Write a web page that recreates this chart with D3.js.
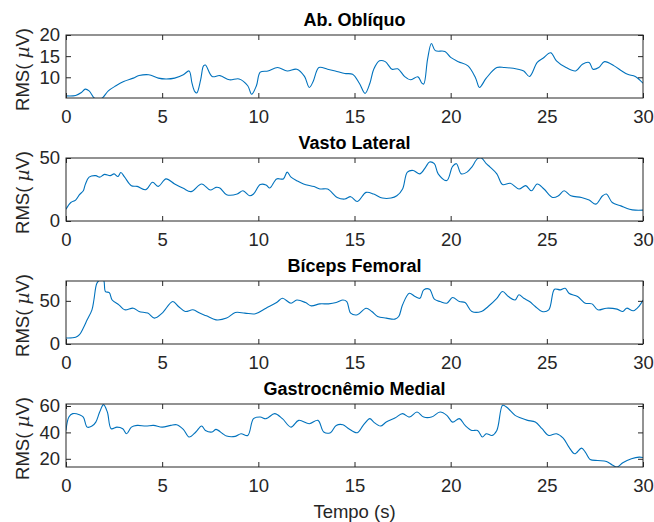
<!DOCTYPE html>
<html><head><meta charset="utf-8">
<script src="https://cdn.jsdelivr.net/npm/d3@7"></script>
<style>
body{margin:0;background:#fff}
svg{display:block}
text{font-family:"Liberation Sans",Arial,Helvetica,sans-serif}
</style>
</head><body>
<svg id="fig" width="654" height="522"></svg>
<script>
// Time axis (s)
const timeTicks = [0, 5, 10, 15, 20, 25, 30];

// RMS envelopes, [time (s), RMS (µV)]
const abObliquo = [
  [0,5.6],[0.5,5.7],[0.8,6.4],[1.0,7.2],[1.2,6.8],[1.5,5.0],[1.85,5.0],[2.2,6.8],[2.6,8.0],[3.0,9.0],
  [3.5,9.8],[3.8,10.4],[4.3,10.6],[4.8,9.8],[5.2,9.6],[5.65,9.8],[6.1,10.6],[6.4,11.5],[6.55,8.6],[6.7,6.6],
  [6.8,6.3],[7.0,9.4],[7.15,12.7],[7.25,12.9],[7.6,10.2],[8.0,10.4],[8.5,9.4],[9.0,9.6],[9.45,8.0],[9.65,6.0],
  [9.9,8.0],[10.1,11.2],[10.5,11.5],[11.0,12.3],[11.5,11.5],[12.0,11.9],[12.4,10.2],[12.65,7.6],[12.85,9.0],[13.15,12.3],
  [13.6,11.9],[14.0,11.5],[14.5,10.9],[14.9,10.7],[15.25,8.6],[15.55,6.2],[15.8,8.6],[16.0,11.9],[16.3,13.9],[16.6,13.7],
  [16.95,11.9],[17.25,12.0],[17.6,10.2],[17.9,9.4],[18.3,10.1],[18.5,8.6],[18.6,8.4],[18.8,14.3],[19.0,18.0],[19.2,16.3],
  [19.7,16.1],[20.0,14.7],[20.4,13.7],[20.9,12.7],[21.3,9.8],[21.5,7.6],[21.85,9.8],[22.4,12.3],[22.8,12.3],[23.5,11.9],
  [23.8,11.5],[24.1,10.2],[24.5,13.5],[24.8,14.5],[25.2,15.8],[25.5,13.9],[26.0,12.3],[26.5,11.5],[26.85,13.1],[27.2,13.5],
  [27.4,11.9],[27.7,12.3],[28.0,13.7],[28.5,12.7],[28.9,11.5],[29.2,10.7],[29.6,10.2],[30.0,8.6]
];

const vastoLateral = [
  [0,9.4],[0.25,14.7],[0.5,16.6],[0.7,20.9],[0.9,24.0],[1.0,28.9],[1.2,34.8],[1.55,36.0],[1.75,34.8],[2.0,37.0],
  [2.3,36.0],[2.5,37.4],[2.7,35.3],[2.85,38.5],[3.05,34.8],[3.4,28.0],[3.7,27.5],[4.15,24.9],[4.5,30.7],[4.8,27.5],
  [5.2,33.4],[5.65,29.4],[6.1,25.9],[6.5,23.3],[7.05,29.4],[7.5,24.6],[7.8,26.7],[8.0,26.2],[8.35,20.9],[8.9,21.4],
  [9.2,24.0],[9.55,20.0],[9.75,21.4],[10.1,28.9],[10.4,28.6],[10.6,26.2],[10.95,33.4],[11.3,33.4],[11.5,38.8],[11.7,34.8],
  [12.0,32.0],[12.35,29.4],[12.9,27.3],[13.2,25.4],[13.6,25.4],[14.1,18.7],[14.5,17.4],[14.8,19.3],[15.15,15.5],[15.6,22.7],
  [16.0,21.4],[16.45,18.2],[16.9,18.2],[17.2,20.0],[17.5,25.4],[17.75,38.8],[18.05,40.1],[18.4,37.4],[18.7,42.8],[18.9,46.8],
  [19.15,45.5],[19.35,37.4],[19.8,32.1],[20.1,43.3],[20.3,45.5],[20.55,37.4],[20.85,38.8],[21.1,42.8],[21.4,49.5],[21.6,50.0],
  [21.85,45.5],[22.05,42.8],[22.4,37.4],[22.7,28.9],[23.1,29.9],[23.55,25.4],[23.9,28.1],[24.2,24.0],[24.5,29.4],[24.85,25.4],
  [25.3,18.7],[25.6,20.0],[25.9,24.0],[26.25,20.0],[26.8,18.7],[27.2,16.6],[27.55,13.4],[27.9,20.0],[28.1,21.4],[28.4,14.7],
  [28.85,12.0],[29.3,9.4],[29.6,8.6],[30.0,8.6]
];

const bicepsFemoral = [
  [0,6.9],[0.5,7.7],[0.7,10.8],[0.9,18.5],[1.1,28.0],[1.35,39.6],[1.45,51.0],[1.6,70.0],[1.75,74.0],[1.95,74.0],
  [2.05,60.8],[2.25,59.6],[2.4,51.0],[2.75,45.4],[3.05,39.6],[3.5,41.5],[3.8,37.7],[4.25,35.8],[4.6,30.0],[5.0,35.8],
  [5.55,49.2],[5.85,43.5],[6.2,37.7],[6.6,39.6],[6.95,35.8],[7.3,32.7],[7.8,28.0],[8.35,30.0],[8.8,36.5],[9.3,35.8],
  [9.85,35.0],[10.4,41.5],[10.95,48.0],[11.25,53.0],[11.7,47.3],[12.0,51.0],[12.45,48.0],[12.75,44.2],[13.2,46.5],[13.65,46.5],
  [14.05,48.0],[14.4,51.0],[14.6,49.2],[14.8,35.8],[15.15,33.8],[15.6,41.5],[15.9,37.7],[16.2,31.9],[16.65,30.0],[17.1,28.8],
  [17.3,31.9],[17.5,45.4],[17.85,58.8],[18.15,55.0],[18.4,53.0],[18.6,62.7],[18.9,63.5],[19.15,51.9],[19.45,49.2],[19.8,47.3],
  [20.1,53.8],[20.45,49.2],[20.75,48.0],[21.1,37.7],[21.6,37.7],[21.95,43.5],[22.4,53.0],[22.7,60.8],[23.0,55.0],[23.35,51.0],
  [23.55,57.0],[23.8,53.0],[24.1,49.2],[24.4,43.5],[24.75,37.7],[25.1,39.6],[25.4,63.5],[25.7,62.7],[25.95,64.6],[26.15,58.8],
  [26.6,55.0],[27.0,47.3],[27.35,46.5],[27.65,39.6],[28.1,41.5],[28.65,40.4],[28.95,37.7],[29.15,41.5],[29.5,38.5],[29.8,44.0],[30.0,51.0]
];

const gastrocnemioMedial = [
  [0,41.5],[0.15,51.6],[0.35,54.2],[0.7,53.4],[0.9,51.6],[1.1,44.0],[1.35,44.8],[1.55,47.8],[1.75,55.4],[1.95,61.0],
  [2.15,55.4],[2.35,42.8],[2.65,44.0],[2.95,42.8],[3.15,39.0],[3.4,44.0],[3.7,45.3],[4.15,44.8],[4.55,45.3],[5.0,44.0],
  [5.45,45.3],[5.75,45.8],[6.1,42.3],[6.4,36.5],[6.75,40.3],[7.05,44.8],[7.25,41.5],[7.6,40.3],[7.8,42.3],[8.15,39.0],
  [8.35,37.2],[8.8,37.0],[9.1,39.0],[9.45,37.7],[9.75,50.4],[10.1,51.6],[10.4,50.4],[10.85,54.2],[11.25,50.4],[11.7,44.0],
  [12.1,49.1],[12.65,46.6],[13.1,49.1],[13.4,40.3],[13.75,39.8],[14.05,45.3],[14.4,45.8],[14.7,42.8],[15.15,39.8],[15.45,45.3],
  [15.8,50.4],[16.0,47.8],[16.35,44.8],[16.65,47.8],[17.1,50.9],[17.5,54.2],[17.85,51.6],[18.25,55.4],[18.6,51.6],[19.0,51.6],
  [19.45,55.4],[19.8,52.9],[20.1,47.8],[20.45,50.4],[20.75,45.3],[21.1,41.5],[21.4,41.5],[21.65,36.5],[21.85,39.0],[22.15,37.7],
  [22.4,41.5],[22.7,60.5],[22.9,59.2],[23.35,52.9],[23.65,50.9],[24.0,49.1],[24.4,47.8],[24.75,42.8],[25.1,37.7],[25.5,39.0],
  [25.85,35.7],[26.15,28.9],[26.45,23.8],[26.8,28.1],[27.0,25.1],[27.25,19.5],[27.65,18.7],[28.1,18.0],[28.4,15.4],[28.65,13.8],
  [28.95,17.0],[29.4,20.0],[29.8,21.3],[30.0,21.0]
];

// Panel definitions: title, series, y-range and y-ticks
const panelTitles = ["Ab. Oblíquo", "Vasto Lateral", "Bíceps Femoral", "Gastrocnêmio Medial"];
const panelSeries = [abObliquo, vastoLateral, bicepsFemoral, gastrocnemioMedial];
const panelYDomains = [[5.1, 20], [0, 50], [0, 73], [13.8, 61.5]];
const panelYTicks = [[10, 15, 20], [0, 50], [0, 50], [20, 40, 60]];

const svg = d3.select("#fig");
const left = 66, right = 643;
const firstTop = 35, pitch = 123, plotH = 63;
const axisColor = "#262626";
const lineColor = "#0072BD";
const tickLen = 5;
const labelSize = "18.5px";

const x = d3.scaleLinear().domain([0, 30]).range([left, right]);

panelTitles.forEach((title, i) => {
  const top = firstTop + i * pitch;
  const bottom = top + plotH;
  const y = d3.scaleLinear().domain(panelYDomains[i]).range([bottom, top]);
  const g = svg.append("g");

  const clipId = "clip" + i;
  svg.append("clipPath").attr("id", clipId)
    .append("rect").attr("x", left).attr("y", top).attr("width", right - left).attr("height", plotH);

  // data line
  const line = d3.line().x(d => x(d[0])).y(d => y(d[1])).curve(d3.curveCatmullRom.alpha(0.5));
  g.append("path").datum(panelSeries[i])
    .attr("clip-path", `url(#${clipId})`)
    .attr("fill", "none").attr("stroke", lineColor).attr("stroke-width", 1.1)
    .attr("d", line);

  // bottom axis with inward ticks
  const xAxis = d3.axisBottom(x).tickValues(timeTicks).tickSizeInner(-tickLen).tickSizeOuter(0).tickPadding(12);
  const gx = g.append("g").attr("transform", `translate(0,${bottom})`).call(xAxis);
  // top mirrored ticks
  const xTop = d3.axisTop(x).tickValues(timeTicks).tickSizeInner(-tickLen).tickSizeOuter(0).tickFormat("");
  const gxt = g.append("g").attr("transform", `translate(0,${top})`).call(xTop);
  // left axis
  const yAxis = d3.axisLeft(y).tickValues(panelYTicks[i]).tickSizeInner(-tickLen).tickSizeOuter(0).tickPadding(6);
  const gy = g.append("g").attr("transform", `translate(${left},0)`).call(yAxis);
  const yRight = d3.axisRight(y).tickValues(panelYTicks[i]).tickSizeInner(-tickLen).tickSizeOuter(0).tickFormat("");
  const gyr = g.append("g").attr("transform", `translate(${right},0)`).call(yRight);

  [gx, gxt, gy, gyr].forEach(a => {
    a.select(".domain").remove();
    a.selectAll(".tick line").attr("stroke", axisColor).attr("stroke-width", 1);
    a.selectAll(".tick text").attr("fill", axisColor).style("font-size", labelSize);
  });

  // axes box
  g.append("rect").attr("x", left).attr("y", top).attr("width", right - left).attr("height", plotH)
    .attr("fill", "none").attr("stroke", axisColor).attr("stroke-width", 1);

  // title
  svg.append("text").attr("x", (left + right) / 2).attr("y", top - 9)
    .attr("text-anchor", "middle").attr("font-weight", "bold").attr("fill", "#000")
    .style("font-size", "18px").text(title);

  // y label
  const yl = svg.append("text")
    .attr("transform", `translate(29,${(top + bottom) / 2 + 3}) rotate(-90)`)
    .attr("text-anchor", "middle").attr("fill", axisColor).style("font-size", labelSize);
  yl.append("tspan").text("RMS( ");
  yl.append("tspan").attr("font-style", "italic").attr("font-family", "'DejaVu Serif',serif").text("µ");
  yl.append("tspan").text("V)");
});

// x label
svg.append("text").attr("x", (left + right) / 2).attr("y", 518)
  .attr("text-anchor", "middle").attr("fill", axisColor).style("font-size", labelSize).text("Tempo (s)");
</script>
</body></html>
